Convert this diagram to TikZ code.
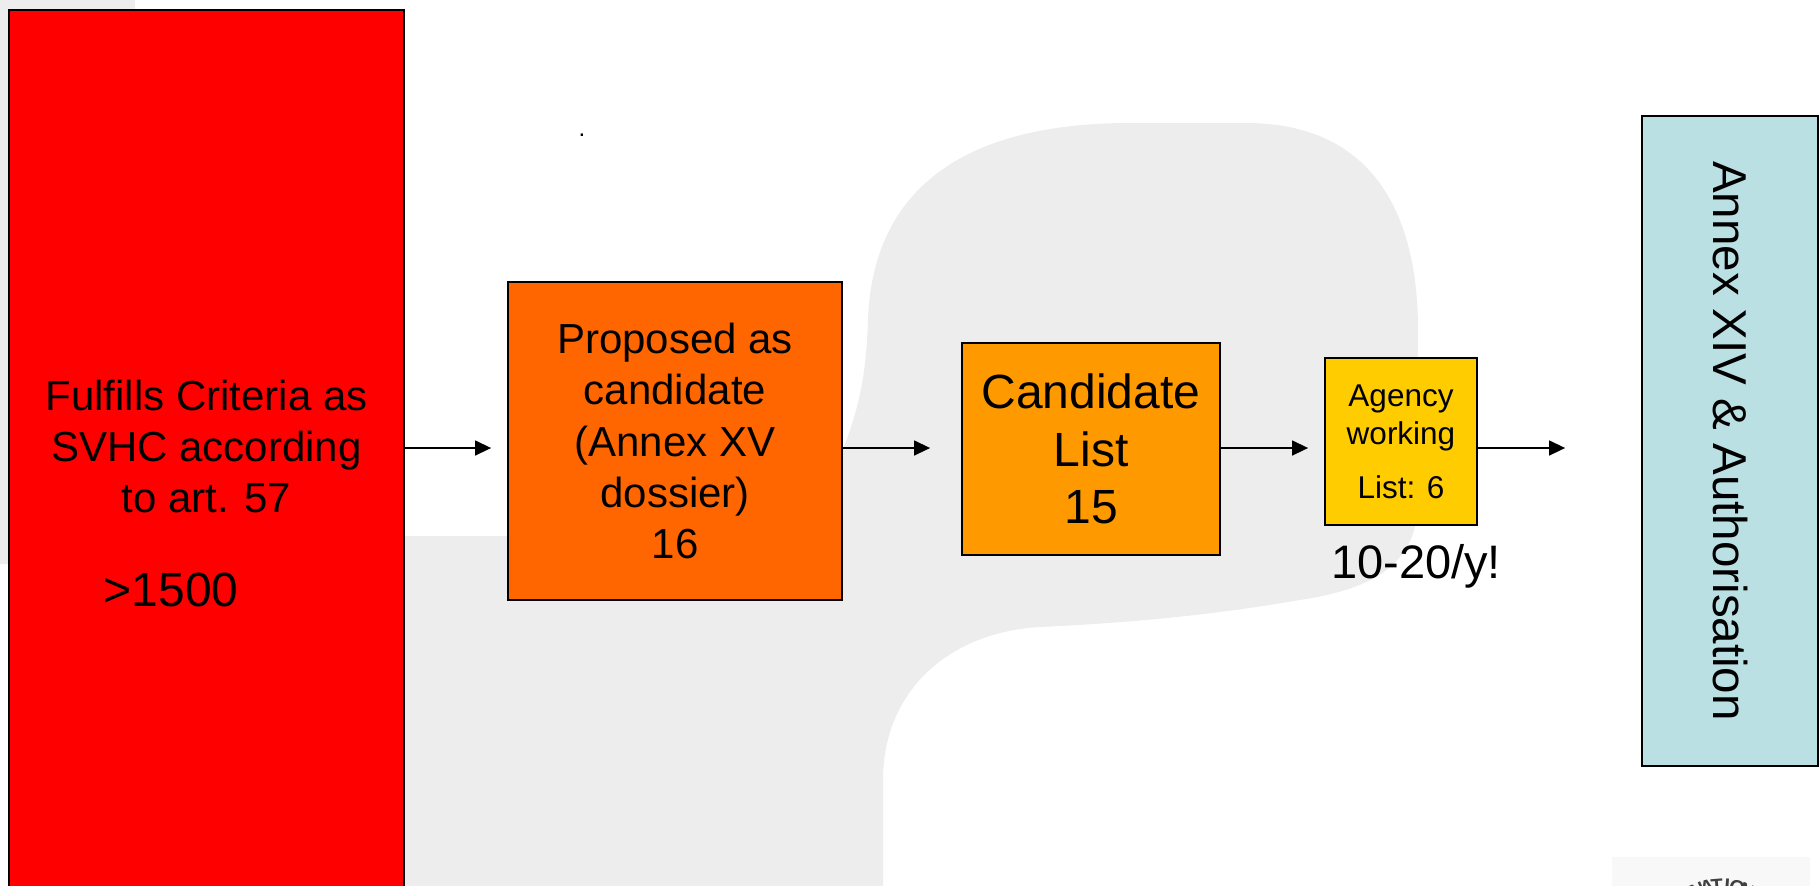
\documentclass[tikz,border=0pt]{standalone}
\usepackage{fontspec}
\setmainfont{Liberation Sans}
\usetikzlibrary{arrows.meta,calc}

\definecolor{bggrey}{HTML}{EDEDED}
\definecolor{logogrey}{HTML}{F8F8F8}
\definecolor{boxred}{HTML}{FF0000}
\definecolor{boxorange}{HTML}{FF6600}
\definecolor{boxamber}{HTML}{FF9900}
\definecolor{boxyellow}{HTML}{FFCC00}
\definecolor{boxblue}{HTML}{BBE0E3}

\tikzset{
  stagebox/.style={draw=black, line width=0.9pt, rectangle, inner sep=0pt,
                   align=center, text=black},
  flow/.style={line width=0.7pt, -{Triangle[length=8pt,width=7.5pt]}},
}

\begin{document}
\begin{tikzpicture}[x=0.5pt,y=-0.5pt]
  \useasboundingbox (0,0) rectangle (1820,885);
  \clip (0,0) rectangle (1820,885);

  % watermark shape in the background
  \fill[bggrey] (0,0) -- (135,0) -- (135,536) -- (842,536) -- (842,452)
    .. controls (858,410) and (866,380) .. (868,320)
    .. controls (872,200) and (950,123) .. (1130,123)
    -- (1246,123) .. controls (1370,123) and (1418,210) .. (1418,330)
    -- (1418,500) .. controls (1418,560) and (1380,588) .. (1300,600)
    .. controls (1230,612) and (1150,622) .. (1040,627)
    .. controls (950,632) and (883,690) .. (883,780)
    -- (883,900) -- (300,900) -- (300,564) -- (0,564) -- cycle;

  % emblem at the lower right corner
  \fill[logogrey] (1612,857) rectangle (1810,900);
  \foreach \ch [count=\i] in {N,A,T,I,O,N} {
    \pgfmathsetmacro{\ang}{-90-(3.5-\i)*9}
    \node[font=\bfseries\fontsize{10}{10}\selectfont, text=black!75,
          anchor=south, inner sep=0pt, rotate={-(\ang+90)}]
      at ($(1722,950)+(\ang:57)$) {\ch};
  }

  % stray full stop
  \node[font=\fontsize{12}{12}\selectfont, inner sep=0pt] (dot) at (582,135) {.};

  % stages
  \node[stagebox, fill=boxred, minimum width=197.5pt, minimum height=484pt,
        font=\fontsize{21}{25.5}\selectfont] (svhc) at (206.5,494)
    {Fulfills Criteria as\\SVHC according\\to art. 57\\[21.5pt]%
     {\fontsize{24}{25.5}\selectfont >1500}\hspace*{35.5pt}};

  \node[stagebox, fill=boxorange, minimum width=167pt, minimum height=159pt,
        font=\fontsize{21}{25.65}\selectfont] (proposed) at (675,441)
    {Proposed as\\candidate\\(Annex XV\\dossier)\\16};

  \node[stagebox, fill=boxamber, minimum width=129pt, minimum height=106pt,
        font=\fontsize{24}{28.75}\selectfont] (candidate) at (1091,449)
    {Candidate\\List\\15};

  \node[stagebox, fill=boxyellow, minimum width=76pt, minimum height=83.5pt,
        font=\fontsize{15.75}{19}\selectfont] (agency) at (1401,441.5)
    {Agency\\working\\[8pt]List: 6};

  \node[font=\fontsize{23.5}{28}\selectfont, anchor=base, inner sep=0pt]
    (rate) at (1416,578) {10-20/y!};

  \node[stagebox, fill=boxblue, rotate=-90, minimum width=325pt,
        minimum height=88pt, font=\fontsize{23.75}{28}\selectfont]
    (annex) at (1730,441) {Annex XIV \& Authorisation};

  % connectors
  \coordinate (lane) at (0,448);
  \draw[flow, shorten >=8pt] (svhc.east |- lane) -- (proposed.west |- lane);
  \draw[flow, shorten >=15.5pt] (proposed.east |- lane) -- (candidate.west |- lane);
  \draw[flow, shorten >=8pt] (candidate.east |- lane) -- (agency.west |- lane);
  \draw[flow, shorten >=38pt] (agency.east |- lane) -- (annex.south |- lane);
\end{tikzpicture}
\end{document}
